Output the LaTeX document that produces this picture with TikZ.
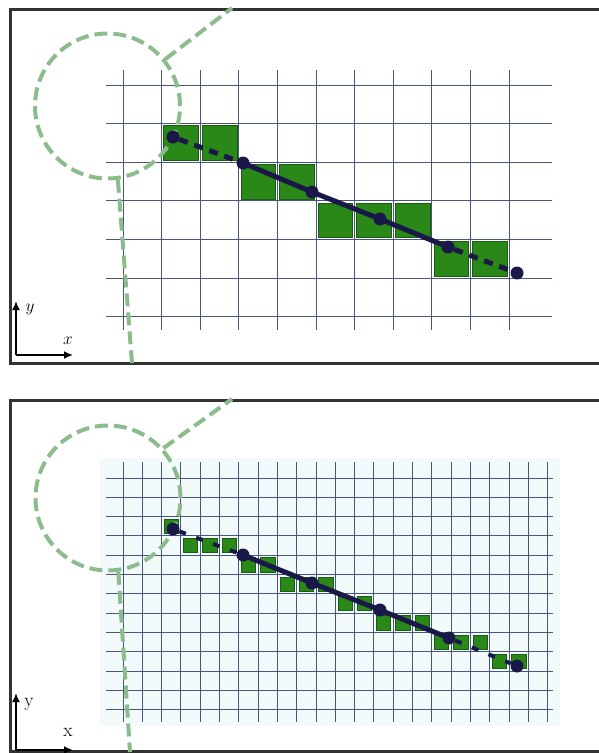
\documentclass[tikz,border=0pt]{standalone}
\usepackage{tikz}
\usetikzlibrary{arrows.meta}
\definecolor{framegray}{RGB}{50,50,50}
\definecolor{gridblue}{RGB}{72,86,124}
\definecolor{gridbg}{RGB}{243,250,252}
\definecolor{pixgreen}{RGB}{42,136,24}
\definecolor{pixedge}{RGB}{28,92,16}
\definecolor{linenavy}{RGB}{26,24,72}
\definecolor{lensgreen}{RGB}{140,188,140}

\begin{document}
\begin{tikzpicture}[x=1pt, y=-1pt,
    every node/.style={font=\fontsize{19}{21}\selectfont},
    frame/.style={line width=3pt, draw=framegray},
    gridline/.style={line width=1pt, draw=gridblue},
    pixel/.style={fill=pixgreen, draw=pixedge, line width=0.6pt},
    dot/.style={circle, fill=linenavy, inner sep=0pt, minimum size=13pt},
    seg/.style={line width=5pt, draw=linenavy},
    lens/.style={circle, draw=lensgreen, line width=4pt, dash pattern=on 13pt off 6pt, minimum size=145pt, inner sep=0pt},
    lensline/.style={line width=4pt, draw=lensgreen, dash pattern=on 13pt off 6pt},
    axis/.style={line width=2.6pt, -{Latex[length=9pt,width=8pt]}}]
    \useasboundingbox (0,0) rectangle (599,753);
    % Frames
    \draw[frame] (599,9) -- (10,9) -- (10,363) -- (599,363);
    \draw[frame] (599,400) -- (10,400) -- (10,751.5) -- (599,751.5);

    % Coarse grid
    \foreach \i in {0,...,10}
        \draw[gridline] ({123+38.6*\i},70) -- ++(0,260);
    \foreach \j in {0,...,6}
        \draw[gridline] (106,{85+38.6*\j}) -- (552,{85+38.6*\j});
    \foreach \c/\r in {1/1,2/1,3/2,4/2,5/3,6/3,7/3,8/4,9/4}
        \filldraw[pixel] ({123+38.6*\c+2},{85+38.6*\r+2}) rectangle ++(34.6,34.6);

    % Fine grid
    \fill[gridbg] (100,458) rectangle (560,726);
    \foreach \i in {0,...,22}
        \draw[gridline] ({123+19.3*\i},462) -- ++(0,260);
    \foreach \j in {0,...,12}
        \draw[gridline] (106,{478+19.3*\j}) -- (553,{478+19.3*\j});
    \foreach \c/\r in {2/2,3/3,4/3,5/3,6/4,7/4,8/5,9/5,10/5,11/6,12/6,13/7,14/7,15/7,16/8,17/8,18/8,19/9,20/9}
        \filldraw[pixel] ({123+19.3*\c+2.5},{478+19.3*\r+2.5}) rectangle ++(14.3,14.3);

    % Zoom circles
    \node[lens] (lensA) at (107.5,106) {};
    \coordinate (lensAtop) at (232,8);
    \coordinate (lensAbot) at (132,363);
    \draw[lensline] (lensA.39) -- (lensAtop);
    \draw[lensline] (lensA.-82.5) -- (lensAbot);
    \node[lens] (lensB) at (108,498) {};
    \coordinate (lensBtop) at (232,399);
    \coordinate (lensBbot) at (130,752);
    \draw[lensline] (lensB.42) -- (lensBtop);
    \draw[lensline] (lensB.-82.5) -- (lensBbot);

    % Line and sample points
    \node[dot] (a1) at (173,137) {};
    \node[dot] (a2) at (243,163) {};
    \node[dot] (a3) at (312,192) {};
    \node[dot] (a4) at (380,219) {};
    \node[dot] (a5) at (448,247) {};
    \node[dot] (a6) at (517,273) {};
    \draw[seg, dash pattern=on 9pt off 7pt] (a1) -- (a2);
    \draw[seg] (a2.center) -- (a3.center) -- (a4.center) -- (a5.center);
    \draw[seg, dash pattern=on 9pt off 7pt] (a5) -- (a6);

    \node[dot] (b1) at (173,529) {};
    \node[dot] (b2) at (243,555) {};
    \node[dot] (b3) at (312,583) {};
    \node[dot] (b4) at (380,610) {};
    \node[dot] (b5) at (449,638) {};
    \node[dot] (b6) at (517,666) {};
    \draw[seg, line width=4pt, dash pattern=on 7pt off 11pt] (b1) -- (b2);
    \draw[seg] (b2.center) -- (b3.center) -- (b4.center) -- (b5.center);
    \draw[seg, line width=4pt, dash pattern=on 7pt off 11pt] (b5) -- (b6);

    % Axes
    \coordinate (oa) at (16,355);
    \draw[axis] (oa) -- ++(0,-54);
    \draw[axis] (oa) -- ++(57,0);
    \node (ya) at (30,309) {$y$};
    \node (xa) at (68,341) {$x$};
    \coordinate (ob) at (16,750);
    \draw[axis] (ob) -- ++(0,-57);
    \draw[axis] (ob) -- ++(57,0);
    \node (yb) at (29,704) {y};
    \node (xb) at (68,732) {x};
\end{tikzpicture}
\end{document}
